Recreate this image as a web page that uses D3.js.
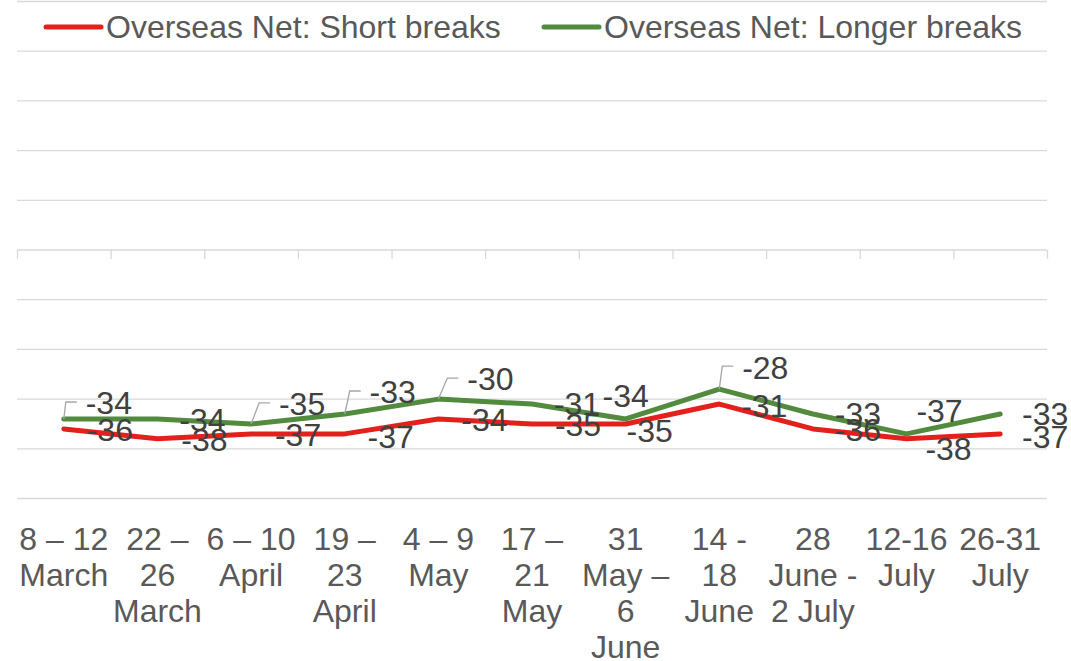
<!DOCTYPE html>
<html><head><meta charset="utf-8">
<script src="https://cdn.jsdelivr.net/npm/d3@7"></script>
<style>body{margin:0;background:#fff} svg{display:block} text{font-family:"Liberation Sans",Arial,sans-serif}</style>
</head><body><svg id="c" width="1071" height="661"></svg>
<script>
// ---- data ----
const categories = [["8 – 12","March"],["22 –","26","March"],["6 – 10","April"],["19 –","23","April"],["4 – 9","May"],["17 –","21","May"],["31","May –","6","June"],["14 -","18","June"],["28","June -","2 July"],["12-16","July"],["26-31","July"]];
const shortBreaks = [-36,-38,-37,-37,-34,-35,-35,-31,-36,-38,-37];
const longerBreaks = [-34,-34,-35,-33,-30,-31,-34,-28,-33,-37,-33];
const yTicks = [-50,-40,-30,-20,-10,0,10,20,30,40,50];
const seriesNames = ["Overseas Net: Short breaks","Overseas Net: Longer breaks"];

// ---- layout (label placement offsets in px from the point) ----
const shortLabelOffsets = [[46,1],[47,1],[47,1],[46,3],[46,1],[46,1],[24,7],[45,2],[45,1],[42,10],[45,3]];
const longerLabelOffsets = [[45,-16],[45,1],[51,-20],[48,-22],[52,-20],[45,0],[0,-23],[46,-22],[45,0],[33,-23],[45,0]];
const longerLeaders = [true,false,true,true,true,false,false,true,false,false,false];

const RED = "#E3211C", GREEN = "#528A3E";
const FONT = 32;
const svg = d3.select("#c");

const x = d3.scaleBand().domain(d3.range(categories.length)).range([17, 1047]).padding(0);
const bw = x.bandwidth();
const cx = i => x(i) + bw / 2;
const y = d3.scaleLinear().domain([-50, 50]).range([498.5, 1.5]);

// gridlines
svg.append("g").selectAll("line").data(yTicks.filter(t => t !== 0)).join("line")
  .attr("x1", 17).attr("x2", 1047).attr("y1", d => y(d)).attr("y2", d => y(d))
  .attr("stroke", "#D9D9D9").attr("stroke-width", 1.3);

// zero axis with tick marks at category boundaries
const axisG = svg.append("g").attr("transform", `translate(0,${y(0)})`);
const xAxis = d3.axisBottom(d3.scaleLinear().domain([0, categories.length]).range([17, 1047]))
  .tickValues(d3.range(categories.length + 1)).tickSize(9).tickFormat("");
axisG.call(xAxis);
axisG.select(".domain").attr("stroke", "#D9D9D9").attr("stroke-width", 1.3).attr("d", "M17,0H1047");
axisG.selectAll(".tick line").attr("stroke", "#D9D9D9").attr("stroke-width", 1.3);

// x category labels
const lab = svg.append("g").attr("fill", "#595959").attr("font-size", FONT).attr("text-anchor", "middle");
categories.forEach((lines, i) => {
  const t = lab.append("text").attr("x", cx(i)).attr("y", 550);
  lines.forEach((s, k) => t.append("tspan").attr("x", cx(i)).attr("y", 550 + k * 36).text(s));
});

// lines
const line = d3.line().x((d, i) => cx(i)).y(d => y(d));
[[shortBreaks, RED], [longerBreaks, GREEN]].forEach(([vals, col]) => {
  svg.append("path").datum(vals).attr("d", line).attr("fill", "none")
    .attr("stroke", col).attr("stroke-width", 5).attr("stroke-linecap", "round").attr("stroke-linejoin", "round");
});

// leader lines
const lead = svg.append("g");
longerBreaks.forEach((v, i) => {
  if (!longerLeaders[i]) return;
  const px = cx(i), py = y(v);
  const lcx = px + longerLabelOffsets[i][0], lcy = py + longerLabelOffsets[i][1];
  const left = lcx - 23;
  lead.append("path").attr("d", `M${px},${py}L${left - 20},${lcy - 1}L${left - 9},${lcy - 1}`)
    .attr("fill", "none").attr("stroke", "#A6A6A6").attr("stroke-width", 1.3);
});

// data labels
const dl = svg.append("g").attr("fill", "#404040").attr("font-size", FONT).attr("text-anchor", "middle");
[[shortBreaks, shortLabelOffsets], [longerBreaks, longerLabelOffsets]].forEach(([vals, offs]) => {
  vals.forEach((v, i) => {
    dl.append("text").attr("x", cx(i) + offs[i][0]).attr("y", y(v) + offs[i][1]).attr("dy", "0.355em").text(v);
  });
});

// legend
const legend = [[seriesNames[0], RED, 46], [seriesNames[1], GREEN, 544]];
legend.forEach(([name, col, lx]) => {
  svg.append("line").attr("x1", lx).attr("x2", lx + 55).attr("y1", 27).attr("y2", 27)
    .attr("stroke", col).attr("stroke-width", 5).attr("stroke-linecap", "round");
  svg.append("text").attr("x", lx + 60).attr("y", 27).attr("dy", "0.355em")
    .attr("fill", "#595959").attr("font-size", FONT).text(name);
});
</script></body></html>
